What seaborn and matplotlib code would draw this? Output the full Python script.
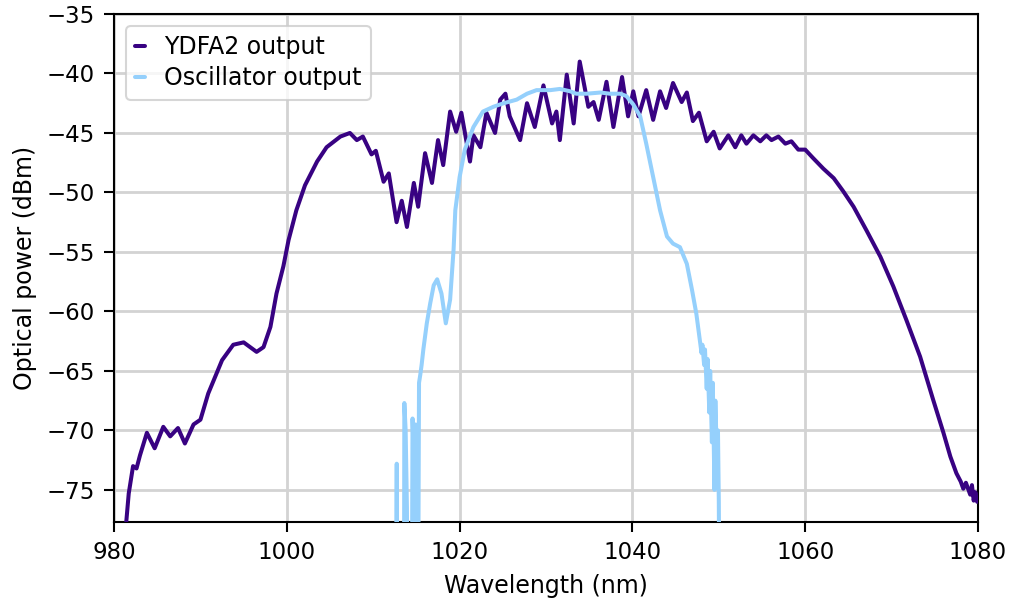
import numpy as np
import pandas as pd
import matplotlib
matplotlib.use("Agg")
import matplotlib.pyplot as plt
import seaborn as sns

# YDFA2 output (nm, dBm)
ydfa_wl = [980.9, 981.4, 981.7, 982.2, 982.6, 983.0, 983.8, 984.7, 985.7, 986.5, 987.4, 988.2,
           989.2, 990.0, 990.9, 992.5, 993.8, 995.0, 996.5, 997.3, 998.1, 998.8, 999.6, 1000.2,
           1001.1, 1002.1, 1003.5, 1004.6, 1006.2, 1007.3, 1008.1, 1008.8, 1009.8, 1010.3,
           1011.2, 1011.8, 1012.7, 1013.3, 1013.9, 1014.7, 1015.2, 1016.0, 1016.8, 1017.5,
           1018.1, 1018.9, 1019.6, 1020.2, 1021.2, 1021.6, 1022.4, 1023.1, 1024.1, 1024.7,
           1025.3, 1025.8, 1027.0, 1027.8, 1028.7, 1029.7, 1030.7, 1031.2, 1031.6, 1032.4,
           1033.2, 1033.9, 1034.9, 1035.5, 1036.1, 1037.0, 1037.8, 1038.8, 1039.5, 1040.1,
           1040.7, 1041.6, 1042.4, 1043.2, 1043.9, 1044.7, 1045.7, 1046.3, 1047.0, 1047.7,
           1048.6, 1049.4, 1050.1, 1051.1, 1051.9, 1052.6, 1053.2, 1054.0, 1054.8, 1055.5,
           1056.1, 1056.9, 1057.7, 1058.4, 1059.2, 1060.0, 1060.9, 1062.1, 1063.3, 1064.4,
           1065.6, 1067.1, 1068.7, 1070.2, 1071.7, 1073.3, 1074.8, 1076.0, 1076.8, 1077.5,
           1078.0, 1078.3, 1078.6, 1079.1, 1079.3, 1079.5, 1079.7, 1079.9]
ydfa_db = [-80.0, -77.8, -75.3, -73.0, -73.2, -72.1, -70.2, -71.5, -69.7, -70.5, -69.8, -71.1,
           -69.5, -69.1, -66.9, -64.1, -62.8, -62.6, -63.4, -63.0, -61.3, -58.5, -56.2, -54.0,
           -51.5, -49.4, -47.4, -46.2, -45.3, -45.0, -45.6, -45.3, -46.8, -46.5,
           -49.1, -48.4, -52.5, -50.7, -52.9, -49.2, -51.2, -46.7, -49.2, -45.6,
           -47.7, -43.2, -44.9, -43.3, -47.4, -45.2, -46.2, -43.3, -45.0, -42.2,
           -41.7, -43.6, -45.6, -42.5, -44.5, -41.0, -44.2, -43.2, -45.6, -40.1,
           -44.2, -39.0, -42.8, -42.4, -43.9, -40.7, -44.5, -40.3, -43.6, -41.5,
           -43.6, -41.4, -43.9, -41.5, -42.9, -40.8, -42.4, -41.6, -44.0, -43.3,
           -45.7, -44.9, -46.3, -45.2, -46.2, -45.2, -45.9, -45.2, -45.7, -45.2,
           -45.6, -45.3, -45.9, -45.7, -46.4, -46.4, -47.1, -48.0, -48.8, -49.9,
           -51.2, -53.2, -55.4, -57.9, -60.7, -63.8, -67.4, -70.2, -72.2, -73.6,
           -74.3, -74.9, -74.4, -75.4, -74.6, -75.9, -75.2, -76.0]

# Oscillator output (nm, dBm)
osc_wl = [1012.6, 1012.72, 1012.8, 1013.55, 1013.6, 1013.75, 1013.9, 1014.0, 1014.45, 1014.55,
          1014.7, 1014.8, 1014.9, 1015.0, 1015.1, 1015.2, 1015.3, 1015.45, 1015.6, 1015.8,
          1016.2, 1016.6, 1017.0, 1017.4, 1017.9, 1018.4, 1018.9, 1019.3, 1019.5, 1020.0,
          1020.6, 1021.6, 1022.7, 1023.9, 1025.1, 1026.6, 1027.8, 1028.9, 1030.5, 1031.6,
          1032.8, 1033.5, 1034.7, 1036.3, 1037.4, 1038.6, 1039.3, 1040.1, 1040.9, 1041.6,
          1042.4, 1043.2, 1044.0, 1044.7, 1045.5, 1046.3, 1046.9, 1047.4, 1047.8, 1048.0,
          1048.1, 1048.3, 1048.4, 1048.6, 1048.7, 1048.9, 1049.0, 1049.2, 1049.3, 1049.5,
          1049.6, 1049.8, 1049.9, 1050.0, 1050.1]
osc_db = [-90.0, -72.8, -90.0, -90.0, -67.7, -70.0, -76.5, -90.0, -90.0, -69.0,
          -72.5, -90.0, -69.5, -90.0, -70.0, -85.0, -66.0, -65.3, -64.5, -63.2,
          -61.0, -59.3, -57.8, -57.3, -58.5, -61.0, -59.0, -54.8, -51.5, -48.7,
          -46.4, -44.5, -43.2, -42.8, -42.5, -42.2, -41.7, -41.4, -41.4, -41.3,
          -41.5, -41.7, -41.7, -41.6, -41.7, -41.7, -41.9, -42.6, -43.6, -45.9,
          -48.7, -51.5, -53.7, -54.3, -54.6, -56.0, -58.2, -60.2, -62.4, -63.5,
          -62.8, -64.5, -63.2, -66.5, -64.0, -68.5, -65.0, -71.0, -66.0, -75.0,
          -67.5, -73.0, -70.0, -76.0, -90.0]

series_names = ["YDFA2 output", "Oscillator output"]
series_colors = ["#380282", "#95d0fc"]

sns.set_theme(style="ticks")
plt.rcParams["font.family"] = ["DejaVu Sans"]
plt.rcParams.update({
    "axes.linewidth": 1.5,
    "xtick.major.width": 1.5, "ytick.major.width": 1.5,
    "xtick.major.size": 7, "ytick.major.size": 7,
    "xtick.major.pad": 7, "ytick.major.pad": 7,
    "xtick.labelsize": 16.5, "ytick.labelsize": 16.5,
    "axes.labelsize": 17, "axes.labelpad": 7,
    "axes.edgecolor": "black",
    "text.color": "black", "axes.labelcolor": "black",
    "xtick.color": "black", "ytick.color": "black",
    "lines.solid_joinstyle": "round",
})

fig = plt.figure(figsize=(10.12, 6.03), dpi=100)
ax = fig.add_axes([0.1127, 0.1343, 0.8537, 0.8425])

sns.lineplot(x=ydfa_wl, y=ydfa_db, ax=ax, color=series_colors[0], lw=2.9,
             label=series_names[0], estimator=None, sort=False, zorder=3)
sns.lineplot(x=osc_wl, y=osc_db, ax=ax, color=series_colors[1], lw=2.9,
             label=series_names[1], estimator=None, sort=False, zorder=3)

ax.set_xlim(980, 1080)
ax.set_ylim(-77.7, -35)
ax.set_xticks(np.arange(980, 1081, 20))
ax.set_yticks(np.arange(-75, -34, 5))
ax.grid(True, color="#d3d3d3", lw=2)
ax.set_axisbelow(True)
ax.set_xlabel("Wavelength (nm)")
ax.set_ylabel("Optical power (dBm)")
leg = ax.legend(loc="upper left", fontsize=17, handlelength=0.4, frameon=True,
                fancybox=True, framealpha=0.8, edgecolor="#cccccc",
                borderpad=0.4, labelspacing=0.3, handletextpad=0.8)
leg.get_frame().set_linewidth(1.5)

fig.savefig("out.png", dpi=100)
